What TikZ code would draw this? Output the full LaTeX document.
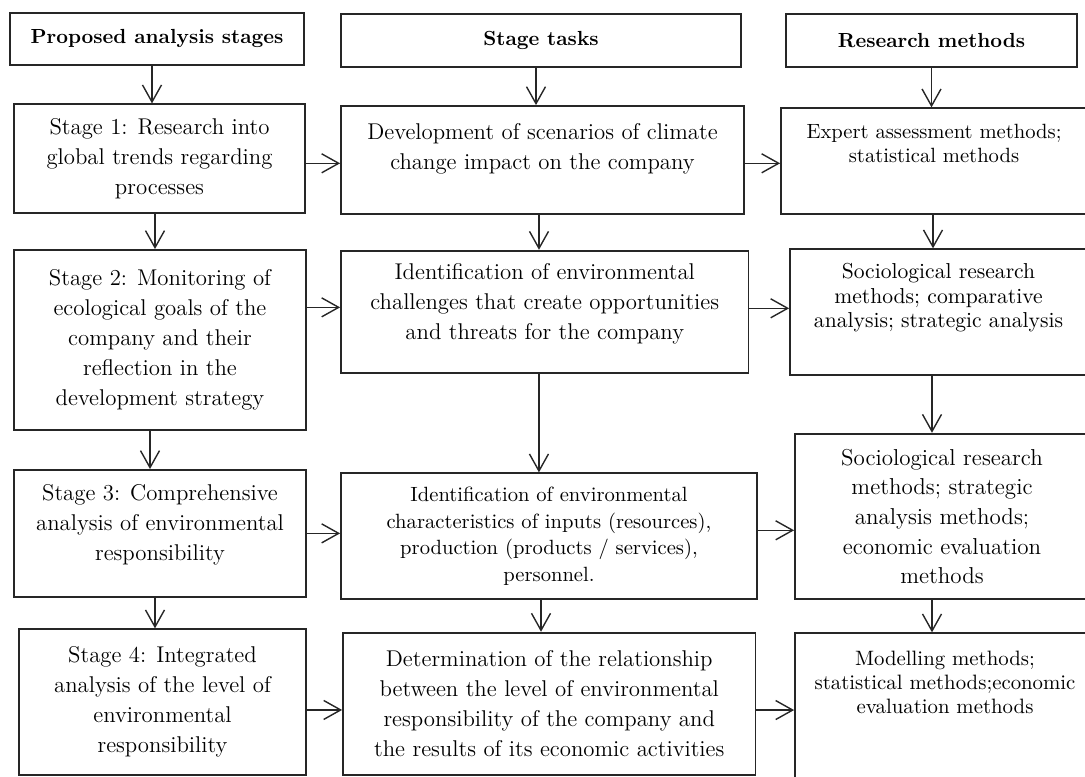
\documentclass[tikz,border=0pt]{standalone}
\usetikzlibrary{arrows.meta}

% zero-width strut that pushes a box's text upwards
\newcommand{\lift}[1]{\rule[-#1]{0pt}{#1}}

\begin{document}
\begin{tikzpicture}[
        x=0.5pt, y=-0.5pt,
        >={Straight Barb[length=8.5pt,width=9.5pt]},
        hd/.style={draw=black!85, line width=0.9pt, inner sep=0pt, font=\bfseries\fontsize{10.2}{12}\selectfont},
        bx/.style={draw=black!85, line width=0.9pt, inner sep=0pt, align=center, font=\fontsize{11.4}{15}\selectfont},
        e/.style={->, draw=black!85, line width=0.7pt}
    ]
        \useasboundingbox (0,0) rectangle (1085,776);
        \clip (0,0) rectangle (1085,776);

        % column headers
        \node[hd, minimum width=147pt, minimum height=26.2pt] (hA) at (157,38.85) {Proposed analysis stages};
        \node[hd, minimum width=200pt, minimum height=26.4pt] (hB) at (541,40.35) {Stage tasks};
        \node[hd, minimum width=145.5pt, minimum height=26.4pt] (hC) at (931.5,40.35) {Research methods};

        % stages
        \node[bx, minimum width=145.5pt, minimum height=54.2pt] (s1) at (159.5,158.5)
            {Stage 1: Research into\\ global trends regarding\\ processes};
        \node[bx, minimum width=146pt, minimum height=90.2pt] (s2) at (160,340.15)
            {Stage 2: Monitoring of\\ ecological goals of the\\ company and their\\ reflection in the\\ development strategy};
        \node[bx, minimum width=146pt, minimum height=63.4pt] (s3) at (160,533.35)
            {Stage 3: Comprehensive\\ analysis of environmental\\ responsibility\lift{11.3pt}};
        \node[bx, minimum width=143.5pt, minimum height=72.9pt] (s4) at (162.5,702.15)
            {Stage 4: Integrated\\ analysis of the level of\\ environmental\\ responsibility};

        % tasks
        \node[bx, minimum width=201.5pt, minimum height=54pt] (t1) at (542.5,160)
            {Development of scenarios of climate\\ change impact on the company\lift{14pt}};
        \node[bx, minimum width=203.75pt, minimum height=61.3pt] (t2) at (544.75,312)
            {Identification of environmental\\ challenges that create opportunities\\ and threats for the company\lift{10.3pt}};
        \node[bx, minimum width=208pt, minimum height=63pt, font=\fontsize{10.3}{13.2}\selectfont] (t3) at (549,536.3)
            {Identification of environmental\\ characteristics of inputs (resources),\\ production (products / services),\\ personnel.};
        \node[bx, minimum width=206.25pt, minimum height=71.2pt] (t4) at (549.25,703.85)
            {Determination of the relationship\\ between the level of environmental\\ responsibility of the company and\\ the results of its economic activities};

        % methods
        \node[bx, minimum width=153pt, minimum height=52.9pt, font=\fontsize{10.3}{11.7}\selectfont] (m1) at (934,161.15)
            {Expert assessment methods;\\ statistical methods\lift{17.8pt}};
        \node[bx, minimum width=148.5pt, minimum height=62.9pt, font=\fontsize{10.8}{12.2}\selectfont] (m2) at (938.5,312.15)
            {Sociological research\\ methods; comparative\\ analysis; strategic analysis\lift{16.6pt}};
        \node[bx, minimum width=147pt, minimum height=82.8pt, font=\fontsize{11.5}{14.8}\selectfont] (m3) at (942,516.5)
            {Sociological research\\ methods; strategic\\ analysis methods;\\ economic evaluation\\ methods};
        \node[bx, minimum width=150pt, minimum height=83.4pt, font=\fontsize{10.4}{12}\selectfont] (m4) at (945,716.65)
            {Modelling methods;\\ statistical methods;economic\\ evaluation methods\lift{34.6pt}};

        % downward arrows
        \draw[e] ([xshift=-2.5pt]hA.south) -- ([xshift=-2.5pt]hA.south |- s1.north);
        \draw[e] ([xshift=-2.25pt]s1.south) -- ([xshift=-2.25pt]s1.south |- s2.north);
        \draw[e] ([xshift=-5pt]s2.south) -- ([xshift=-5pt]s2.south |- s3.north);
        \draw[e] ([xshift=-2.5pt]s3.south) -- ([xshift=-2.5pt]s3.south |- s4.north);
        \draw[e] ([xshift=-2.5pt]hB.south) -- ([xshift=-2.5pt]hB.south |- t1.north);
        \draw[e] ([xshift=-1.75pt]t1.south) -- ([xshift=-1.75pt]t1.south |- t2.north);
        \draw[e] ([xshift=-2.9pt]t2.south) -- ([xshift=-2.9pt]t2.south |- t3.north);
        \draw[e] ([xshift=-4pt]t3.south) -- ([xshift=-4pt]t3.south |- t4.north);
        \draw[e] (hC.south) -- (hC.south |- m1.north);
        \draw[e] ([xshift=-0.5pt]m1.south) -- ([xshift=-0.5pt]m1.south |- m2.north);
        \draw[e] ([xshift=-3.25pt]m2.south) -- ([xshift=-3.25pt]m2.south |- m3.north);
        \draw[e] ([xshift=-5pt]m3.south) -- ([xshift=-5pt]m3.south |- m4.north);

        % arrows to the right
        \draw[e] ([yshift=-2.4pt]s1.east) -- ([yshift=-2.4pt]s1.east -| t1.west);
        \draw[e] ([yshift=16.4pt]s2.east) -- ([yshift=16.4pt]s2.east -| t2.west);
        \draw[e] (s3.east) -- (s3.east -| t3.west);
        \draw[e] ([yshift=-3.9pt]s4.east) -- ([yshift=-3.9pt]s4.east -| t4.west);
        \draw[e] ([yshift=-1.65pt]t1.east) -- ([yshift=-1.65pt]t1.east -| m1.west);
        \draw[e] ([yshift=1.85pt]t2.east) -- ([yshift=1.85pt]t2.east -| m2.west);
        \draw[e] ([yshift=3pt]t3.east) -- ([yshift=3pt]t3.east -| m3.west);
        \draw[e] ([yshift=-3.1pt]t4.east) -- ([yshift=-3.1pt]t4.east -| m4.west);
    \end{tikzpicture}
\end{document}
